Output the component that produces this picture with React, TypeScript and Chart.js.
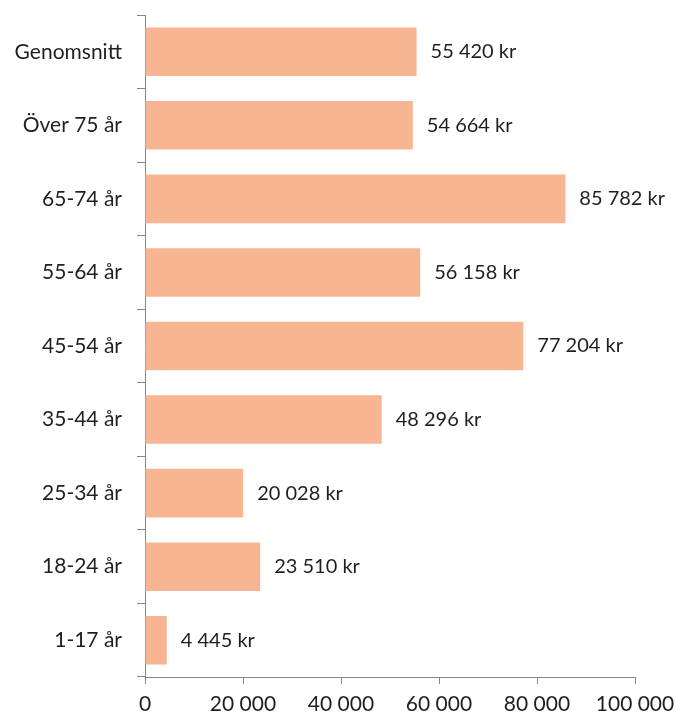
import React, { useEffect, useRef } from "react";
import { Chart, registerables } from "chart.js";

Chart.register(...registerables);

const categories = [
  "Genomsnitt",
  "Över 75 år",
  "65-74 år",
  "55-64 år",
  "45-54 år",
  "35-44 år",
  "25-34 år",
  "18-24 år",
  "1-17 år",
];
const values = [55420, 54664, 85782, 56158, 77204, 48296, 20028, 23510, 4445];
const xTicks = [0, 20000, 40000, 60000, 80000, 100000];

const FONT = "Lato";
const TEXT = "#1f1f1f";
const AXIS = "#868686";
const BAR = "#F8B592";

function fmt(n: number): string {
  const s = Math.round(n).toString();
  return s.replace(/\B(?=(\d{3})+(?!\d))/g, " ");
}

const labelPlugin = {
  id: "barLabels",
  afterDatasetsDraw(chart: any) {
    const ctx = chart.ctx;
    const meta = chart.getDatasetMeta(0);
    ctx.save();
    ctx.font = `20px ${FONT}`;
    ctx.fillStyle = TEXT;
    ctx.textAlign = "left";
    ctx.textBaseline = "middle";
    meta.data.forEach((el: any, i: number) => {
      ctx.fillText(`${fmt(values[i])} kr`, el.x + 14, el.y);
    });
    ctx.restore();
  },
};

export default function App() {
  const ref = useRef<HTMLCanvasElement | null>(null);
  useEffect(() => {
    if (!ref.current) return;
    const chart = new Chart(ref.current, {
      type: "bar",
      data: {
        labels: categories,
        datasets: [
          {
            data: values,
            backgroundColor: BAR,
            borderWidth: 0,
            barPercentage: 0.66,
            categoryPercentage: 1,
          },
        ],
      },
      options: {
        indexAxis: "y",
        animation: false,
        responsive: false,
        maintainAspectRatio: false,
        layout: { padding: { top: 15, right: 54, bottom: 0, left: 0 } },
        plugins: {
          legend: { display: false },
          tooltip: { enabled: false },
        },
        scales: {
          x: {
            min: 0,
            max: 100000,
            afterBuildTicks: (scale: any) => {
              scale.ticks = xTicks.map((v) => ({ value: v }));
            },
            afterFit: (scale: any) => {
              scale.height = 40;
              scale.paddingLeft = 0;
              scale.paddingRight = 0;
            },
            ticks: {
              font: { family: FONT, size: 21 },
              color: TEXT,
              padding: 8,
              maxRotation: 0,
              callback: (v: any) => fmt(Number(v)),
            },
            grid: {
              drawOnChartArea: false,
              drawTicks: true,
              tickLength: 7,
              color: AXIS,
            },
            border: { display: true, color: AXIS, width: 1 },
          },
          y: {
            afterFit: (scale: any) => {
              scale.width = 145;
              scale.paddingTop = 0;
              scale.paddingBottom = 0;
            },
            ticks: {
              font: { family: FONT, size: 21 },
              color: TEXT,
              padding: 15,
            },
            grid: {
              drawOnChartArea: false,
              drawTicks: true,
              tickLength: 8,
              color: AXIS,
              offset: true,
            },
            border: { display: true, color: AXIS, width: 1 },
          },
        },
      },
      plugins: [labelPlugin],
    });
    return () => chart.destroy();
  }, []);
  return (
    <div style={{ position: "fixed", left: 0, top: 0, width: 689, height: 717, background: "#fff" }}>
      <canvas ref={ref} width={689} height={717} style={{ display: "block" }} />
    </div>
  );
}
